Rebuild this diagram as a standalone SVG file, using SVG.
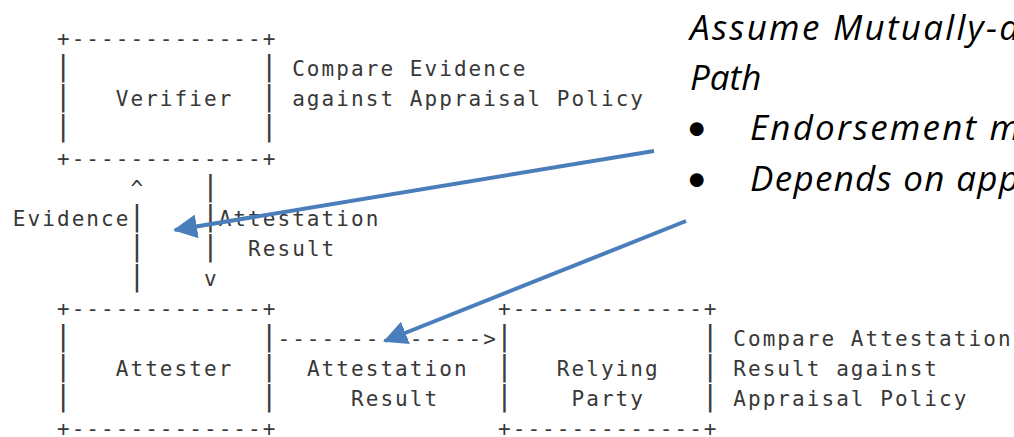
<svg xmlns="http://www.w3.org/2000/svg" width="1014" height="437" viewBox="0 0 1014 437">
  <style>
    /* monospaced grid: 14.7px per column, 30px per row (baselines 46 + 30*row) */
    .mono { font-family: "DejaVu Sans Mono", "Liberation Mono", monospace; font-size: 21px; letter-spacing: 2.06px; fill: #383838; white-space: pre; }
    .bar { font-family: "DejaVu Sans Mono", "Liberation Mono", monospace; font-size: 28px; fill: #3c3c3c; text-anchor: middle; }
    .note { font-family: "Open Sans", Lato, "Liberation Sans", sans-serif; font-style: italic; font-size: 35px; fill: #000000; }
    .bullet { font-family: Lato, "Open Sans", sans-serif; font-size: 37px; fill: #000000; }
    .callout { fill: none; stroke: #4A7EBB; stroke-width: 4; }
  </style>
  <defs>
    <marker id="head" markerUnits="userSpaceOnUse" markerWidth="24" markerHeight="24" viewBox="0 0 24 24" refX="22" refY="12" orient="auto">
      <path d="M0,0 L24,12 L0,24 Z" fill="#4A7EBB"/>
    </marker>
  </defs>
  <rect width="1014" height="437" fill="#ffffff"/>

  <!-- Verifier box: rows 0-4, columns 0-14 -->
  <g id="verifier">
    <text class="mono" x="56.95" y="46">+-------------+</text>
    <text class="bar" x="63.3" y="76">|</text><text class="bar" x="269.13" y="76">|</text>
    <text class="bar" x="63.3" y="106">|</text><text class="mono" x="115.76" y="106">Verifier</text><text class="bar" x="269.13" y="106">|</text>
    <text class="bar" x="63.3" y="136">|</text><text class="bar" x="269.13" y="136">|</text>
    <text class="mono" x="56.95" y="166">+-------------+</text>
  </g>
  <g id="verifier-note" class="mono">
    <text x="292.18" y="76">Compare Evidence</text>
    <text x="292.18" y="106">against Appraisal Policy</text>
  </g>

  <!-- Attester box: rows 9-13, columns 0-14 -->
  <g id="attester">
    <text class="mono" x="56.95" y="316">+-------------+</text>
    <text class="bar" x="63.3" y="346">|</text><text class="bar" x="269.13" y="346">|</text>
    <text class="bar" x="63.3" y="376">|</text><text class="mono" x="115.76" y="376">Attester</text><text class="bar" x="269.13" y="376">|</text>
    <text class="bar" x="63.3" y="406">|</text><text class="bar" x="269.13" y="406">|</text>
    <text class="mono" x="56.95" y="436">+-------------+</text>
  </g>

  <!-- Relying Party box: rows 9-13, columns 30-44 -->
  <g id="relying-party">
    <text class="mono" x="498.01" y="316">+-------------+</text>
    <text class="bar" x="504.36" y="346">|</text><text class="bar" x="710.19" y="346">|</text>
    <text class="bar" x="504.36" y="376">|</text><text class="mono" x="556.82" y="376">Relying</text><text class="bar" x="710.19" y="376">|</text>
    <text class="bar" x="504.36" y="406">|</text><text class="mono" x="571.52" y="406">Party</text><text class="bar" x="710.19" y="406">|</text>
    <text class="mono" x="498.01" y="436">+-------------+</text>
  </g>
  <g id="relying-party-note" class="mono">
    <text x="733.24" y="346">Compare Attestation</text>
    <text x="733.24" y="376">Result against</text>
    <text x="733.24" y="406">Appraisal Policy</text>
  </g>

  <!-- ASCII connectors between the boxes -->
  <g id="connectors">
    <!-- Evidence: Attester up to Verifier (column 5) -->
    <text class="mono" x="130.46" y="196">^</text>
    <text class="mono" x="12.84" y="226">Evidence</text><text class="bar" x="136.81" y="226">|</text>
    <text class="bar" x="136.81" y="256">|</text>
    <text class="bar" x="136.81" y="286">|</text>
    <!-- Attestation Result: Verifier down to Attester (column 10) -->
    <text class="bar" x="210.32" y="196">|</text>
    <text class="bar" x="210.32" y="226">|</text><text class="mono" x="218.67" y="226">Attestation</text>
    <text class="bar" x="210.32" y="256">|</text><text class="mono" x="248.08" y="256">Result</text>
    <text class="mono" x="203.97" y="286">v</text>
    <!-- Attestation Result: Attester to Relying Party (row 10) -->
    <text class="mono" x="277.48" y="346">--------------&gt;</text>
    <text class="mono" x="306.88" y="376">Attestation</text>
    <text class="mono" x="351.00" y="406">Result</text>
  </g>

  <!-- Side note -->
  <g id="note">
    <text class="note" x="690" y="40" textLength="329" lengthAdjust="spacing">Assume Mutually-a</text>
    <text class="note" x="690" y="90">Path</text>
    <text class="bullet" x="686" y="140">•</text><text class="note" x="750" y="140" textLength="270" lengthAdjust="spacing">Endorsement m</text>
    <text class="bullet" x="686" y="191">•</text><text class="note" x="750" y="191" textLength="269" lengthAdjust="spacing">Depends on app</text>
  </g>

  <!-- Callout arrows from the note -->
  <g id="callouts">
    <path class="callout" d="M654,151 L175,230" marker-end="url(#head)"/>
    <path class="callout" d="M686,221 L385,341" marker-end="url(#head)"/>
  </g>
</svg>
